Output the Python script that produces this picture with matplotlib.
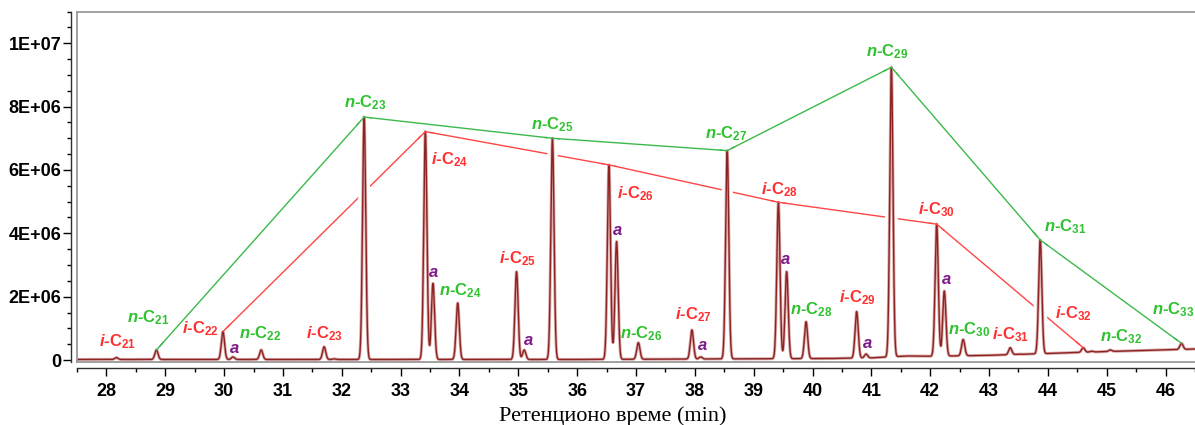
import matplotlib

matplotlib.use("Agg")
import matplotlib.patheffects as pe
import matplotlib.pyplot as plt
import numpy as np

# Peaks: label, retention time (min), apex height.
PEAK_LABELS = ["i-C21", "n-C21", "i-C22", "a", "n-C22", "i-C23", "", "n-C23",
               "i-C24", "a", "n-C24", "i-C25", "a", "n-C25", "i-C26", "a", "n-C26",
               "i-C27", "a", "n-C27", "i-C28", "a", "n-C28", "i-C29", "a", "n-C29",
               "i-C30", "a", "n-C30", "i-C31", "", "n-C31", "i-C32", "", "n-C32", "n-C33"]
PEAK_TIMES = [28.17, 28.85, 29.98, 30.15, 30.63, 31.70, 31.87, 32.38,
              33.42, 33.55, 33.97, 34.97, 35.10, 35.58, 36.54, 36.67, 37.04,
              37.95, 38.10, 38.55, 39.42, 39.56, 39.89, 40.75, 40.91, 41.34,
              42.11, 42.24, 42.56, 43.36, 43.50, 43.87, 44.60, 44.74, 45.06, 46.27]
PEAK_HEIGHTS = [0.08e6, 0.32e6, 0.90e6, 0.10e6, 0.32e6, 0.42e6, 0.04e6, 7.67e6,
                7.21e6, 2.42e6, 1.80e6, 2.79e6, 0.32e6, 7.00e6, 6.16e6, 3.74e6, 0.55e6,
                0.95e6, 0.10e6, 6.61e6, 4.98e6, 2.79e6, 1.21e6, 1.53e6, 0.19e6, 9.24e6,
                4.29e6, 2.18e6, 0.65e6, 0.39e6, 0.19e6, 3.79e6, 0.39e6, 0.28e6, 0.32e6, 0.53e6]

# baseline drift of the detector signal
BASELINE_TIMES = [27.5, 32.0, 36.0, 40.3, 41.0, 41.6, 42.0, 43.0, 44.0, 45.0, 46.5]
BASELINE_VALUES = [0.02e6, 0.02e6, 0.02e6, 0.05e6, 0.07e6, 0.13e6, 0.12e6, 0.15e6,
                   0.21e6, 0.27e6, 0.35e6]

X_TICKS = list(range(28, 47))
Y_TICKS = [0, 2e6, 4e6, 6e6, 8e6, 1e7]
Y_TICK_LABELS = ["0", "2E+06", "4E+06", "6E+06", "8E+06", "1E+07"]
X_LABEL = "Ретенционо време (min)"

# text placement of the peak labels (data coords, centre of the text)
LABEL_X = [28.18, 28.71, 29.60, 30.17, 30.62, 31.71, None, 32.39,
           33.84, 33.56, 34.01, 34.98, 35.17, 35.57, 36.99, 36.69, 37.09,
           37.97, 38.13, 38.54, 39.44, 39.54, 39.98, 40.76, 40.94, 41.27,
           42.10, 42.27, 42.66, 43.36, None, 44.30, 44.43, None, 45.24, 46.13]
LABEL_Y = [0.58e6, 1.35e6, 1.00e6, 0.37e6, 0.84e6, 0.82e6, None, 8.12e6,
           6.32e6, 2.76e6, 2.19e6, 3.21e6, 0.63e6, 7.44e6, 5.26e6, 4.10e6, 0.84e6,
           1.42e6, 0.47e6, 7.14e6, 5.39e6, 3.16e6, 1.58e6, 1.97e6, 0.53e6, 9.72e6,
           4.76e6, 2.55e6, 0.97e6, 0.79e6, None, 4.21e6, 1.47e6, None, 0.74e6, 1.58e6]

PEAK_SIGMA = 0.027
COLORS = {"n": "#2ec22e", "i": "#ff3030", "a": "#7f1a8a"}
LINE_COLORS = {"n": "#3cb94a", "i": "#ff4545"}

plt.rcParams["mathtext.fontset"] = "custom"
plt.rcParams["mathtext.rm"] = "Liberation Sans:bold"
plt.rcParams["mathtext.it"] = "Liberation Sans:italic:bold"
plt.rcParams["mathtext.bf"] = "Liberation Sans:bold"
plt.rcParams["font.family"] = "Liberation Sans"


def label_text(name):
    if name == "a":
        return r"$\mathit{a}$"
    prefix, carbons = name.split("-C")
    return r"$\mathit{%s}$-C$_{%s}$" % (prefix, carbons)


def chromatogram(t):
    base = np.interp(t, BASELINE_TIMES, BASELINE_VALUES)
    signal = base.copy()
    for t0, h in zip(PEAK_TIMES, PEAK_HEIGHTS):
        amp = h - np.interp(t0, BASELINE_TIMES, BASELINE_VALUES)
        signal += amp * np.exp(-0.5 * ((t - t0) / PEAK_SIGMA) ** 2)
    return signal


fig = plt.figure(figsize=(11.95, 4.25), dpi=100)
ax = fig.add_axes([77 / 1195, 1 - 362 / 425, 1 - 77 / 1195, (362 - 11.5) / 425])

# spines first: moving a spine resets the ticks
for side in ["left", "bottom"]:
    ax.spines[side].set_position(("outward", 4.3))
    ax.spines[side].set_linewidth(1.0)
    ax.spines[side].set_color("#303030")
ax.spines["right"].set_visible(False)
ax.spines["top"].set_color("#9a9a9a")
ax.spines["top"].set_linewidth(1.3)

t = np.arange(27.5, 46.6, 0.002)
ax.plot(t, chromatogram(t), color="#8b2323", lw=1.0, zorder=3,
        path_effects=[pe.Stroke(linewidth=6.5, foreground="white"),
                      pe.Stroke(linewidth=2.2, foreground="#dcaaaa"),
                      pe.Normal()])

# envelopes connecting the n- and i-alkane apexes
for kind in ["n", "i"]:
    idx = [k for k, name in enumerate(PEAK_LABELS)
           if name.startswith(kind + "-") and int(name[3:]) % 2 == (1 if kind == "n" else 0)]
    xs = [PEAK_TIMES[k] for k in idx]
    ys = [PEAK_HEIGHTS[k] for k in idx]
    # full line sits behind the white halo of the trace (gaps where it crosses peaks)
    ax.plot(xs, ys, color=LINE_COLORS[kind], lw=1.0, zorder=2)
    # short pieces on top so the line still meets each apex
    for x0, y0, x1, y1 in zip(xs[:-1], ys[:-1], xs[1:], ys[1:]):
        f = min(0.12 / (x1 - x0), 0.5)
        ax.plot([x0, x0 + f * (x1 - x0)], [y0, y0 + f * (y1 - y0)],
                color=LINE_COLORS[kind], lw=1.0, zorder=4)
        ax.plot([x1 - f * (x1 - x0), x1], [y1 - f * (y1 - y0), y1],
                color=LINE_COLORS[kind], lw=1.0, zorder=4)

for name, x, y in zip(PEAK_LABELS, LABEL_X, LABEL_Y):
    if not name:
        continue
    ax.text(x, y, label_text(name), color=COLORS[name[0]], fontsize=12,
            fontweight="bold", ha="center", va="center", zorder=5)

ax.set_xlim(27.595, 46.48)
ax.set_ylim(-0.06e6, 1.1e7)

ax.tick_params(axis="x", which="major", length=6, width=1.0, pad=5)
ax.tick_params(axis="x", which="minor", length=3, width=1.0)
ax.tick_params(axis="y", which="major", length=5.5, width=1.0, pad=1.5)
ax.tick_params(axis="y", which="minor", length=3, width=1.0)

ax.set_xticks(X_TICKS)
ax.set_xticklabels([str(v) for v in X_TICKS], fontsize=13, fontweight="bold")
ax.set_xticks(np.arange(27.5, 46.6, 0.5), minor=True)
ax.set_yticks(Y_TICKS)
ax.set_yticklabels(Y_TICK_LABELS, fontsize=13, fontweight="bold")
ax.set_yticks(np.arange(0, 1.11e7, 5e5), minor=True)

# grey plot frame inside the offset axes
ax.plot([0, 0], [0, 1], transform=ax.transAxes, color="#9a9a9a", lw=1.3,
        clip_on=False, zorder=6)
ax.plot([0, 1], [0, 0], transform=ax.transAxes, color="#9a9a9a", lw=1.3,
        clip_on=False, zorder=6)

fig.text(613 / 1195, 3.5 / 425, X_LABEL, family="Liberation Serif", fontsize=16,
         ha="center", va="baseline")

fig.savefig("out.png", dpi=100)
